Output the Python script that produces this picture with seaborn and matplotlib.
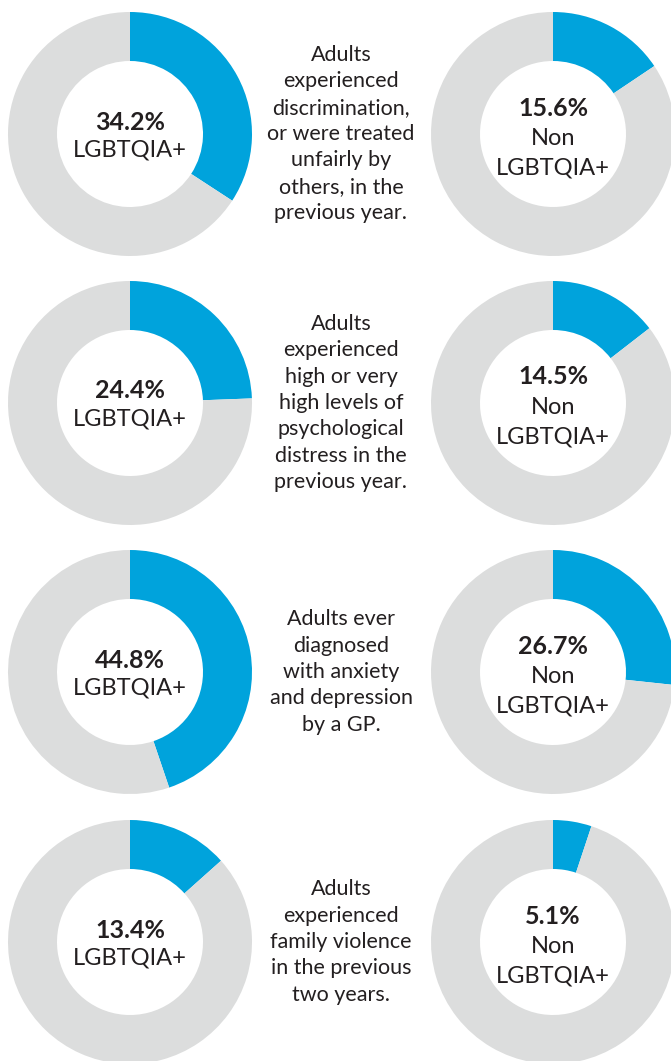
import matplotlib
matplotlib.use("Agg")
import matplotlib.pyplot as plt
import seaborn as sns

# values read from the infographic (percent of adults)
lgbt_pct = [34.2, 24.4, 44.8, 13.4]
non_pct = [15.6, 14.5, 26.7, 5.1]
descriptions = [
    "Adults\nexperienced\ndiscrimination,\nor were treated\nunfairly by\nothers, in the\nprevious year.",
    "Adults\nexperienced\nhigh or very\nhigh levels of\npsychological\ndistress in the\nprevious year.",
    "Adults ever\ndiagnosed\nwith anxiety\nand depression\nby a GP.",
    "Adults\nexperienced\nfamily violence\nin the previous\ntwo years.",
]
group_left = "LGBTQIA+"
group_right = "Non\nLGBTQIA+"

BLUE = "#00A3DC"
GREY = "#DCDDDD"
TEXT = "#231F20"

sns.set_style("white")
plt.rcParams["font.family"] = ["Lato", "DejaVu Sans"]

W, H = 671, 1061
fig = plt.figure(figsize=(W / 100, H / 100), dpi=100)
ax = fig.add_axes([0, 0, 1, 1])

row_y = [134, 403, 672, 942]
left_x, right_x, mid_x = 130, 553, 341
r_out, ring = 122, 49

for i, yc in enumerate(row_y):
    y = H - yc
    for cx, pct in ((left_x, lgbt_pct[i]), (right_x, non_pct[i])):
        ax.pie([pct, 100 - pct], colors=[BLUE, GREY], startangle=90,
               counterclock=False, center=(cx, y), radius=r_out,
               wedgeprops=dict(width=ring, linewidth=0), frame=True)
    # left label
    ax.text(left_x, y + 12, f"{lgbt_pct[i]}%", ha="center", va="center",
            fontsize=18, fontweight="bold", color=TEXT)
    ax.text(left_x, y - 16, group_left, ha="center", va="center",
            fontsize=17, fontweight="normal", color=TEXT)
    # right label
    ax.text(right_x, y + 26, f"{non_pct[i]}%", ha="center", va="center",
            fontsize=18, fontweight="bold", color=TEXT)
    ax.text(right_x, y - 19, group_right, ha="center", va="center",
            fontsize=17, fontweight="normal", color=TEXT, linespacing=1.5)
    # description
    ax.text(mid_x, y, descriptions[i], ha="center", va="center",
            fontsize=15.5, fontweight="normal", color=TEXT, linespacing=1.4)

ax.set_xlim(0, W)
ax.set_ylim(0, H)
ax.set_aspect("equal")
ax.axis("off")
fig.savefig("out.png", dpi=100)
